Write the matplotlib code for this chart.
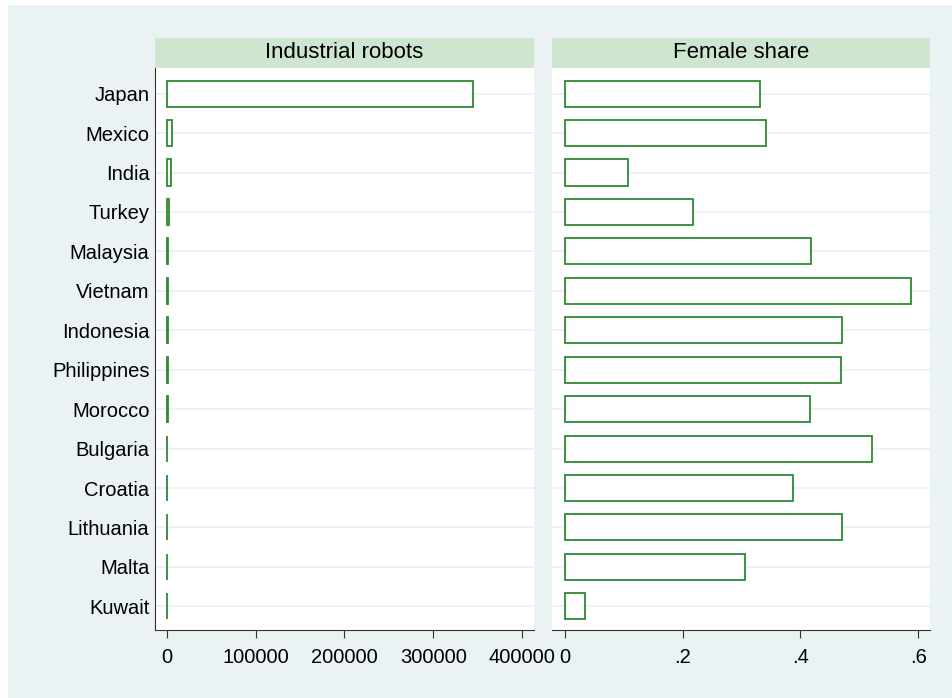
import matplotlib
matplotlib.use("Agg")
import matplotlib.pyplot as plt
import numpy as np

countries = ["Japan", "Mexico", "India", "Turkey", "Malaysia", "Vietnam", "Indonesia",
             "Philippines", "Morocco", "Bulgaria", "Croatia", "Lithuania", "Malta", "Kuwait"]
robots = [345000, 5500, 4500, 1800, 1200, 1100, 900, 700, 600, 500, 400, 300, 200, 100]
female_share = [0.332, 0.342, 0.107, 0.218, 0.418, 0.588, 0.471, 0.469, 0.417, 0.522,
                0.388, 0.471, 0.306, 0.034]
robot_ticks = [0, 100000, 200000, 300000, 400000]
share_ticks = [0, 0.2, 0.4, 0.6]
share_labels = ["0", ".2", ".4", ".6"]

bg = "#eaf2f3"
strip = "#cee6cf"
edge = "#2e8a30"
grid = "#eaf0f2"
font = "Liberation Sans"

W, H = 953, 698
fig = plt.figure(figsize=(9.53, 6.98), dpi=100, facecolor="white")
# graph region background, with thin white margin at left/top
fig.patches.append(plt.Rectangle((8 / W, 0), 1 - 8 / W, 1 - 5 / H, transform=fig.transFigure,
                                 fc=bg, ec="none", zorder=-10))

ax1 = fig.add_axes([155 / W, 1 - 630 / H, (534 - 155) / W, (630 - 68) / H])
ax2 = fig.add_axes([552 / W, 1 - 630 / H, (930 - 552) / W, (630 - 68) / H])

y = np.arange(len(countries))

for ax, vals, title in [(ax1, robots, "Industrial robots"), (ax2, female_share, "Female share")]:
    ax.set_facecolor("white")
    for yy in y:
        ax.axhline(yy, color=grid, lw=1.2, zorder=0)
    ax.barh(y, vals, height=0.66, left=0, color="white", edgecolor=edge, lw=1.3, zorder=2)
    ax.set_ylim(len(countries) - 0.4, -0.65)
    for s in ["top", "right"]:
        ax.spines[s].set_visible(False)
    ax.spines["bottom"].set_color("#333333")
    ax.spines["left"].set_color("#333333")
    ax.tick_params(axis="y", length=0)
    ax.tick_params(axis="x", length=6, color="#333333", labelsize=14.5, pad=7)
    # strip title
    ax.add_patch(plt.Rectangle((0, 1.0), 1, 30 / 562, transform=ax.transAxes,
                               fc=strip, ec="none", clip_on=False, zorder=1))
    ax.text(0.5, 1.0 + 15 / 562, title, transform=ax.transAxes, ha="center", va="center",
            fontsize=16, fontfamily=font, zorder=3)

ax1.set_xlim(-13500, 413500)
ax1.set_xticks(robot_ticks)
ax1.set_xticklabels([str(t) for t in robot_ticks], fontfamily=font)
ax1.set_yticks(y)
ax1.set_yticklabels(countries, fontsize=14.5, fontfamily=font)
ax1.tick_params(axis="y", pad=4)

ax2.set_xlim(-0.022, 0.620)
ax2.set_xticks(share_ticks)
ax2.set_xticklabels(share_labels, fontfamily=font)
ax2.set_yticks([])
ax2.spines["left"].set_visible(False)

fig.savefig("out.png", dpi=100, facecolor="white")
